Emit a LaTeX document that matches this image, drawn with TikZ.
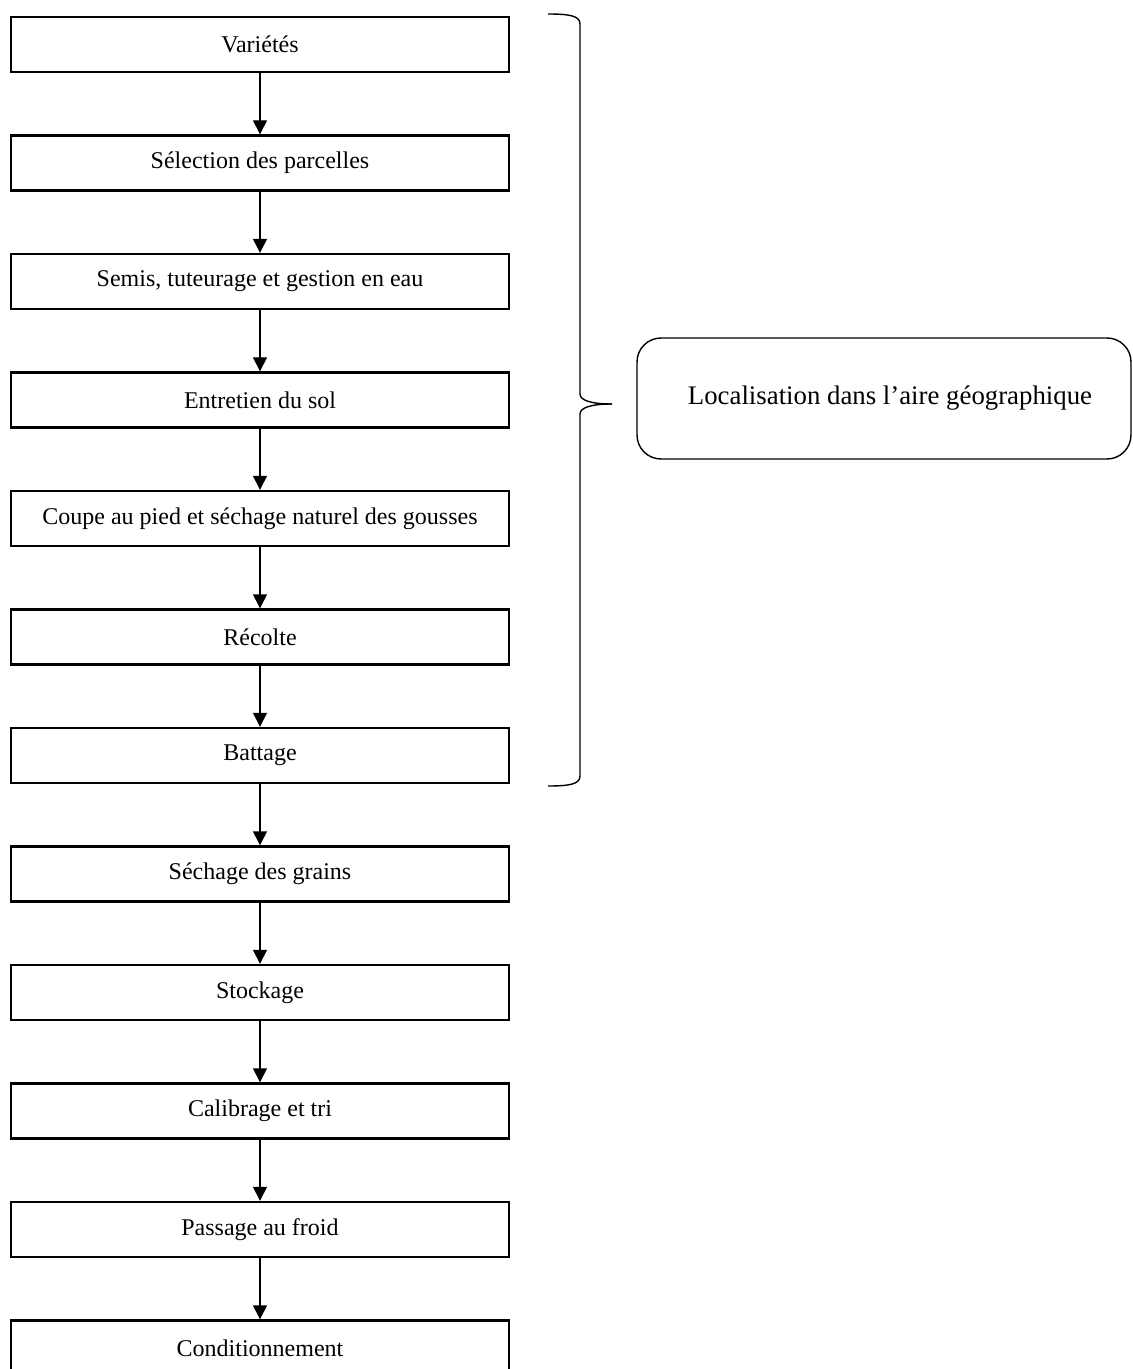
\documentclass[tikz,border=0pt]{standalone}
\usepackage{fontspec}
\setmainfont{Liberation Serif}
\usetikzlibrary{positioning,arrows.meta}
\tikzset{>={Triangle[length=7pt,width=7pt]}}

\begin{document}
\begin{tikzpicture}[->,x=0.5pt,y=-0.5pt,node distance=59.25pt,line width=0.7pt]
      \tikzstyle{etape}=[draw=black,line width=1.2pt,minimum width=249pt,minimum height=27.5pt,
                         inner sep=0pt,font=\fontsize{12}{14}\selectfont]
      \useasboundingbox (0,0) rectangle (1132,1369);

      \node[etape]     (var)    at (260,44.5)      {Variétés};
      \node[etape]     (parc)   [below of=var]     {Sélection des parcelles};
      \node[etape]     (semis)  [below of=parc]    {Semis, tuteurage et gestion en eau};
      \node[etape]     (sol)    [below of=semis]   {Entretien du sol};
      \node[etape]     (coupe)  [below of=sol]     {Coupe au pied et séchage naturel des gousses};
      \node[etape]     (recol)  [below of=coupe]   {Récolte};
      \node[etape]     (batt)   [below of=recol]   {Battage};
      \node[etape]     (sech)   [below of=batt]    {Séchage des grains};
      \node[etape]     (stock)  [below of=sech]    {Stockage};
      \node[etape]     (calib)  [below of=stock]   {Calibrage et tri};
      \node[etape]     (froid)  [below of=calib]   {Passage au froid};
      \node[etape]     (cond)   [below of=froid]   {Conditionnement};

      \node[draw=black,rounded corners=12pt,minimum width=247pt,minimum height=60.5pt,
            font=\fontsize{13.4}{15}\selectfont] (aire) at (884,398.5)
            {\hspace{6pt}Localisation dans l’aire géographique};

      % accolade
      \draw[-] (548,14) .. controls (570,14) and (580,16) .. (580,24) -- (580,394)
               .. controls (580,400) and (590,404) .. (612,404);
      \draw[-] (612,404) .. controls (590,404) and (580,408) .. (580,414) -- (580,776)
               .. controls (580,784) and (570,786) .. (548,786);

      \path (var)    edge (parc)
            (parc)   edge (semis)
            (semis)  edge (sol)
            (sol)    edge (coupe)
            (coupe)  edge (recol)
            (recol)  edge (batt)
            (batt)   edge (sech)
            (sech)   edge (stock)
            (stock)  edge (calib)
            (calib)  edge (froid)
            (froid)  edge (cond)
            ;
\end{tikzpicture}
\end{document}
